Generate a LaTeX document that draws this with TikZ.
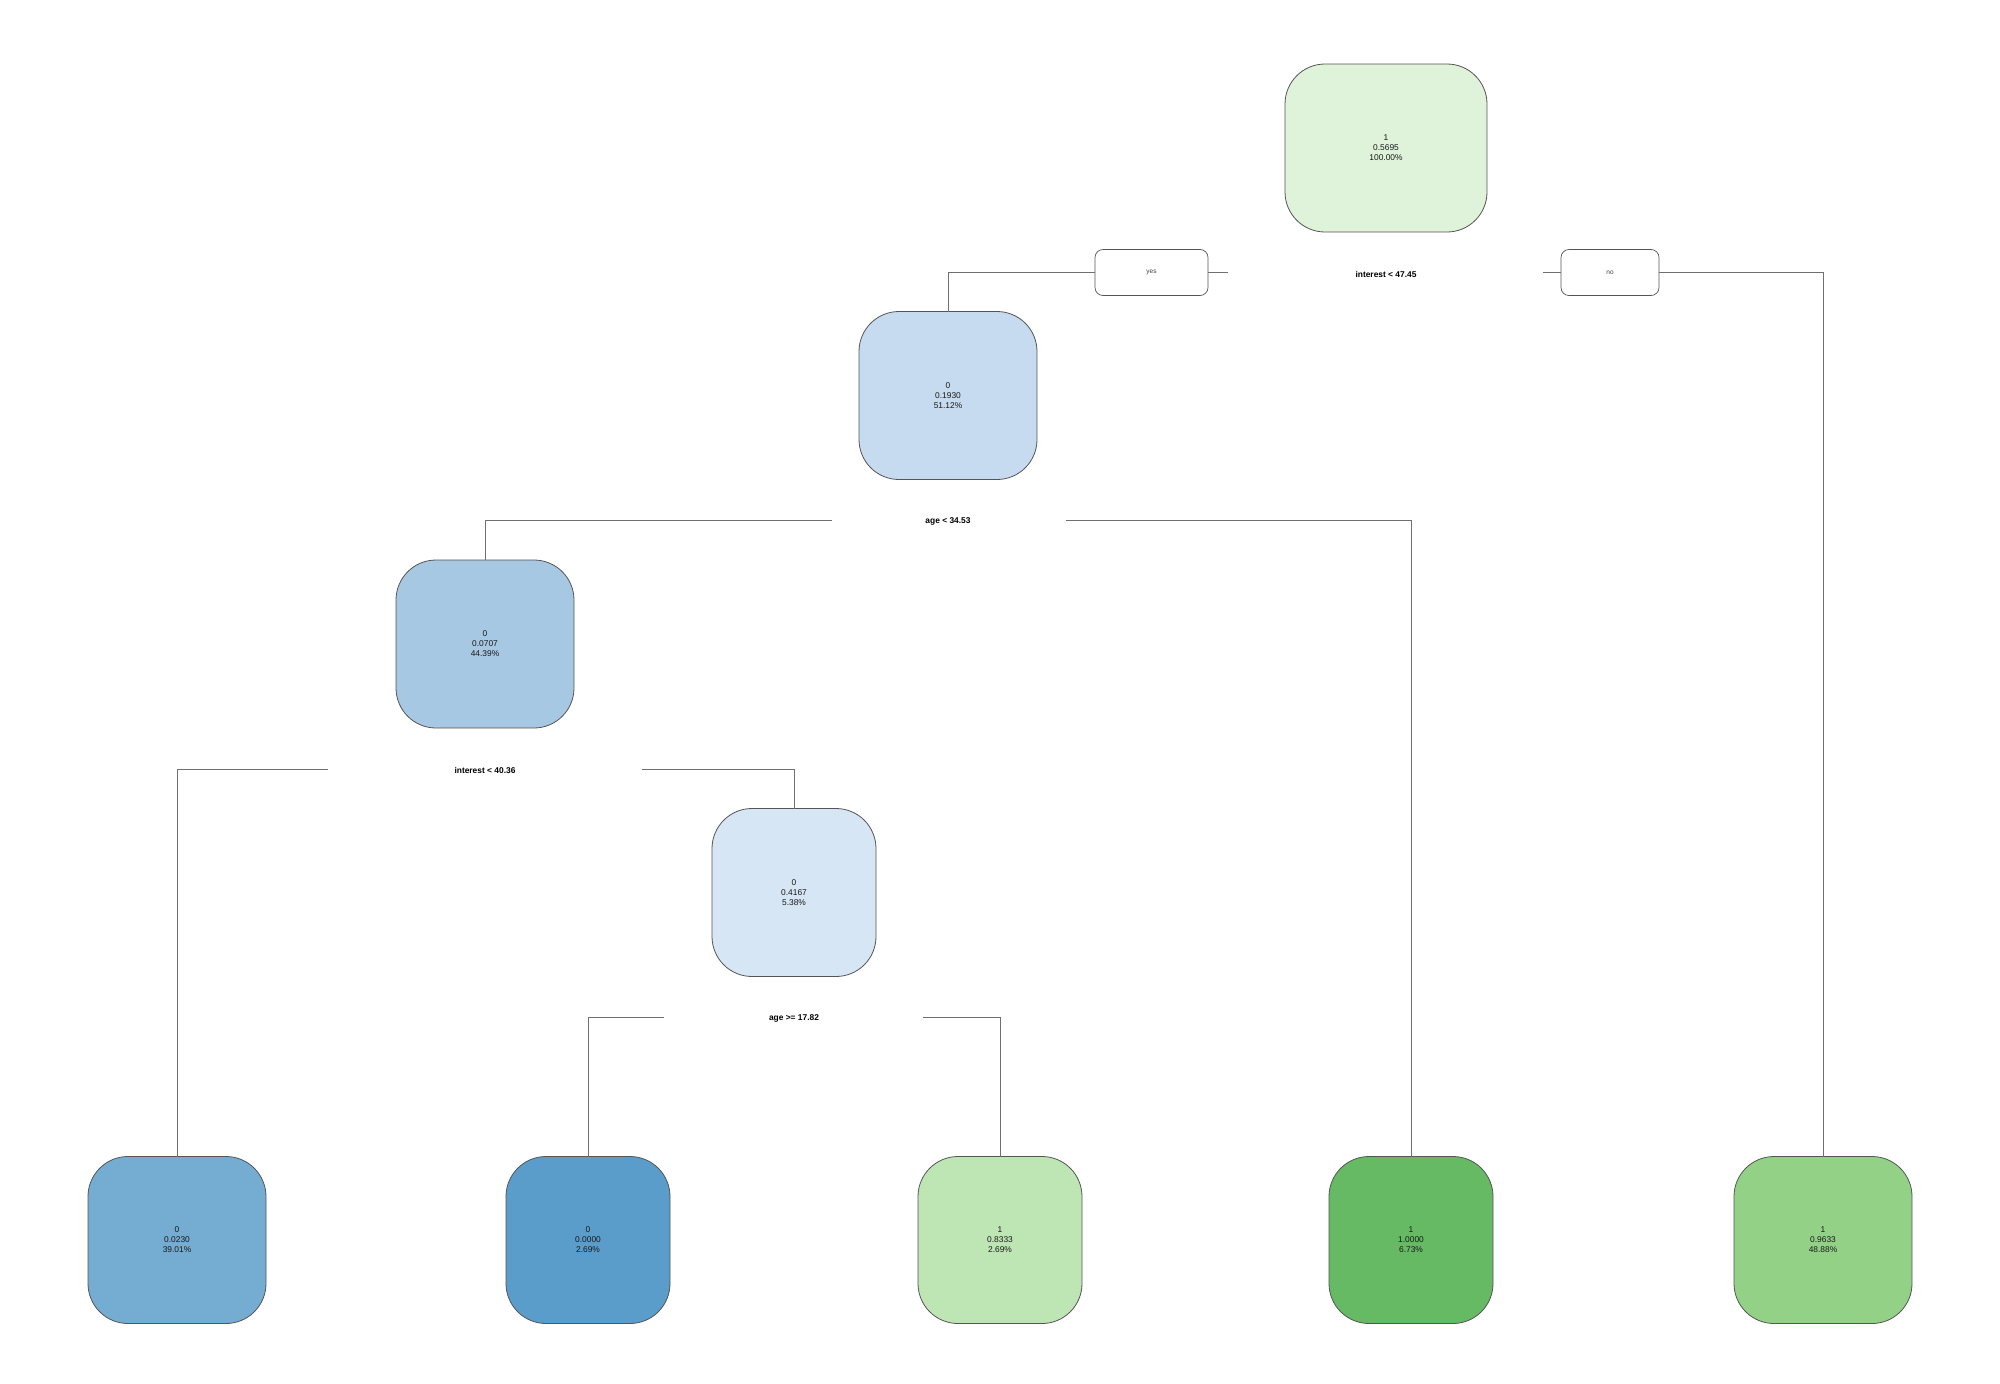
\documentclass[tikz,border=0pt]{standalone}
\usepackage{fontspec}
\setmainfont{Liberation Sans}
\begin{document}
\begin{tikzpicture}[x=1pt,y=-1pt,
  tnode/.style={draw=bordergray,line width=0.8pt,rounded corners=40pt,minimum height=168pt,inner sep=0pt,outer sep=0pt,align=center,font=\fontsize{8.4}{10}\selectfont,text=black!90},
  splitlab/.style={inner sep=0pt,font=\fontsize{8.4}{10}\selectfont\bfseries},
  yn/.style={draw=bordergray,line width=0.7pt,rounded corners=8pt,minimum height=46pt,inner sep=0pt,outer sep=0pt,font=\fontsize{6.5}{8}\selectfont,text=black!75},
  conn/.style={draw=linegray,line width=0.9pt}]
\definecolor{bordergray}{HTML}{555555}
\definecolor{linegray}{HTML}{707070}
\definecolor{cRoot}{RGB}{223,242,218}
\definecolor{cNtwo}{RGB}{198,219,239}
\definecolor{cNthree}{RGB}{166,200,226}
\definecolor{cNfour}{RGB}{214,230,244}
\definecolor{cLone}{RGB}{116,172,210}
\definecolor{cLtwo}{RGB}{90,157,202}
\definecolor{cLthree}{RGB}{189,230,180}
\definecolor{cLfour}{RGB}{102,186,100}
\definecolor{cLfive}{RGB}{147,209,135}
\useasboundingbox (0,0) rectangle (2000,1384);
% nodes
\node[tnode,fill=cRoot,minimum width=202pt] (root) at (1386,148) {1\\0.5695\\100.00\%};
\node[tnode,fill=cNtwo,minimum width=178pt] (n2) at (948,395.5) {0\\0.1930\\51.12\%};
\node[tnode,fill=cNthree,minimum width=178pt] (n3) at (485,644) {0\\0.0707\\44.39\%};
\node[tnode,fill=cNfour,minimum width=164pt] (n4) at (794,892.5) {0\\0.4167\\5.38\%};
\node[tnode,fill=cLone,minimum width=178pt,minimum height=167pt] (l1) at (177,1240) {0\\0.0230\\39.01\%};
\node[tnode,fill=cLtwo,minimum width=164pt,minimum height=167pt] (l2) at (588,1240) {0\\0.0000\\2.69\%};
\node[tnode,fill=cLthree,minimum width=164pt,minimum height=167pt] (l3) at (1000,1240) {1\\0.8333\\2.69\%};
\node[tnode,fill=cLfour,minimum width=164pt,minimum height=167pt] (l4) at (1411,1240) {1\\1.0000\\6.73\%};
\node[tnode,fill=cLfive,minimum width=178pt,minimum height=167pt] (l5) at (1823,1240) {1\\0.9633\\48.88\%};
% split labels
\node[splitlab] (s1) at (1386,274) {interest < 47.45};
\node[splitlab] (s2) at (948,521) {age < 34.53};
\node[splitlab] (s3) at (485,770) {interest < 40.36};
\node[splitlab] (s4) at (794,1018) {age >= 17.82};
% yes / no
\node[yn,minimum width=113pt] (yes) at (1151.5,272.5) {yes};
\node[yn,minimum width=98pt] (no) at (1610,272.5) {no};
% connector ends
\coordinate (s1l) at (1228,272.5);
\coordinate (s1r) at (1543,272.5);
\coordinate (s2l) at (832,520.5);
\coordinate (s2r) at (1066,520.5);
\coordinate (s3l) at (328,769);
\coordinate (s3r) at (642,769);
\coordinate (s4l) at (664,1017);
\coordinate (s4r) at (923,1017);
% connectors
\draw[conn] (s1l) -- (yes.east);
\draw[conn] (yes.west) -| (n2.north);
\draw[conn] (s1r) -- (no.west);
\draw[conn] (no.east) -| (l5.north);
\draw[conn] (s2l) -| (n3.north);
\draw[conn] (s2r) -| (l4.north);
\draw[conn] (s3l) -| (l1.north);
\draw[conn] (s3r) -| (n4.north);
\draw[conn] (s4l) -| (l2.north);
\draw[conn] (s4r) -| (l3.north);
\end{tikzpicture}
\end{document}
